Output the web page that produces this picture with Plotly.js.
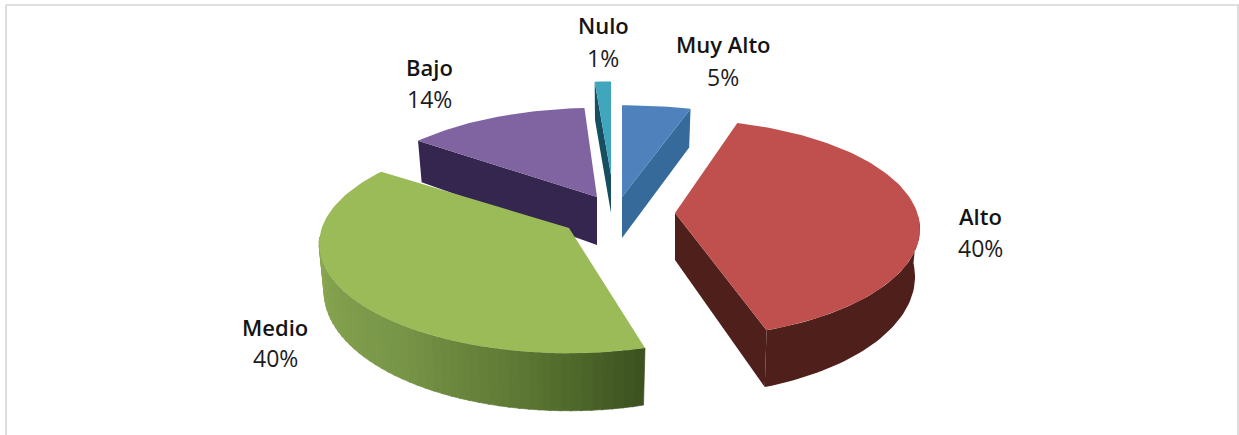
<!DOCTYPE html>
<html>
<head>
<meta charset="utf-8">
<script src="https://cdn.plot.ly/plotly-3.0.1.min.js"></script>
<style>html,body{margin:0;padding:0;background:#fff;overflow:hidden}#chart{width:1239px;height:435px}</style>
</head>
<body>
<div id="chart"></div>
<script>
// ---- data ----
const categories = ["Muy Alto", "Alto", "Medio", "Bajo", "Nulo"];
const percents   = [5, 40, 40, 14, 1];

// ---- styling / layout ----
const topColors  = ["#4f81bd", "#c0504d", "#9bbb59", "#8064a2", "#3fa6bd"];
const sideColors = ["#366a9b", "#4f1f1c", "#5f7a35", "#35264f", "#174f60"];
const apexX = [622, 675, 569, 597, 611];
const apexY = [197, 213, 228, 197, 175];
const apexDepth = [41, 47, 45, 48, 38];
const radiusX = [1.1, 1, 1.02, 1, 1.3];
const radiusY = [0.98, 1, 1, 0.95, 1];
const labelX = [723, 980, 275, 429, 603];
const nameY  = [44, 216, 327, 67, 25];
const pctY   = [77, 248, 358, 99, 58];
const startTrim = [0, 0, 3.5, -2, 0];          // degrees the arc ends are nudged
const endTrim   = [0, 0, -4, 0, 0];
const greenStops = [[165,[60,81,32]],[175,[74,99,40]],[190,[95,122,53]],[215,[120,150,72]],[259,[138,167,80]]];

const R = 240, Ry = 105, P = 0.2, DY = -6, D = 46;
const rad = d => d * Math.PI / 180;

function topPt(i, th) {
  const w = 1 + P * Math.cos(rad(th));
  return [apexX[i] + radiusX[i] * R * Math.sin(rad(th)) / w, apexY[i] + DY - radiusY[i] * Ry * Math.cos(rad(th)) / w];
}
function botPt(i, th) {
  const w = 1 + P * Math.cos(rad(th));
  return [apexX[i] + 0.98 * radiusX[i] * R * Math.sin(rad(th)) / w, apexY[i] + DY - radiusY[i] * Ry * Math.cos(rad(th)) / w + D / w];
}
function poly(points, color, seam) {
  return {
    type: "scatter", mode: "lines", x: points.map(p => p[0]), y: points.map(p => p[1]),
    fill: "toself", fillcolor: color, line: {width: seam ? 0.7 : 0, color: color},
    hoverinfo: "skip", showlegend: false
  };
}
function arcRange(a, b, fn, i) {
  const out = [], n = Math.max(2, Math.ceil(Math.abs(b - a) / 1.5));
  for (let k = 0; k <= n; k++) out.push(fn(i, a + (b - a) * k / n));
  return out;
}
function lerpColor(th) {
  for (let k = 0; k < greenStops.length - 1; k++) {
    const [a, ca] = greenStops[k], [b, cb] = greenStops[k + 1];
    if (th <= b) {
      const t = Math.max(0, (th - a) / (b - a));
      return "rgb(" + ca.map((c, j) => Math.round(c + (cb[j] - c) * t)).join(",") + ")";
    }
  }
  const c = greenStops[greenStops.length - 1][1];
  return "rgb(" + c.join(",") + ")";
}

// slice angle spans from the percentages
const starts = [], ends = [];
let cum = 0;
percents.forEach((v, i) => {
  starts.push(cum * 3.6 + startTrim[i]);
  cum += v;
  ends.push(cum * 3.6 + endTrim[i]);
});

function topFace(i) {
  return poly([[apexX[i], apexY[i]]].concat(arcRange(starts[i], ends[i], topPt, i)).concat([[apexX[i], apexY[i]]]), topColors[i]);
}
function cutFace(i, th) {
  const a = topPt(i, th), b = botPt(i, th);
  return poly([[apexX[i], apexY[i]], a, b, [apexX[i], apexY[i] + apexDepth[i]], [apexX[i], apexY[i]]], sideColors[i]);
}
function arcSide(i, a, b, colorFn) {
  const traces = [];
  if (colorFn) {
    const step = 2;
    for (let th = a; th < b; th += step) {
      const e = Math.min(b, th + step + 0.3);
      traces.push(poly([topPt(i, th), topPt(i, e), botPt(i, e), botPt(i, th), topPt(i, th)], colorFn(th), true));
    }
  } else {
    const t = arcRange(a, b, topPt, i), l = arcRange(a, b, botPt, i).reverse();
    traces.push(poly(t.concat(l, [t[0]]), sideColors[i]));
  }
  return traces;
}

const traces = [];
// back to front: Bajo, Nulo, Muy Alto, Alto, Medio
traces.push(cutFace(3, starts[3]), topFace(3));
traces.push(cutFace(4, starts[4]), topFace(4));
traces.push(cutFace(0, ends[0]), topFace(0));
traces.push(...arcSide(1, 95, ends[1]), cutFace(1, ends[1]), topFace(1));
traces.push(...arcSide(2, starts[2], 262, lerpColor), topFace(2));

const annotations = [];
const nameFont = {family: "'Open Sans', sans-serif", size: 22, color: "#141414", weight: 600};
const pctFont  = {family: "'Open Sans', sans-serif", size: 23, color: "#1c1c1c", weight: 400};
categories.forEach((c, i) => {
  annotations.push({x: labelX[i], y: nameY[i], text: c, showarrow: false, font: nameFont, xanchor: "center", yanchor: "middle"});
  annotations.push({x: labelX[i], y: pctY[i], text: percents[i] + "%", showarrow: false, font: pctFont, xanchor: "center", yanchor: "middle"});
});

const frame = {type: "line", xref: "paper", yref: "paper", line: {color: "#dedede", width: 2}};
const layout = {
  width: 1239, height: 435, margin: {l: 0, r: 0, t: 0, b: 0},
  paper_bgcolor: "#fff", plot_bgcolor: "#fff", showlegend: false,
  xaxis: {range: [0, 1239], visible: false, fixedrange: true},
  yaxis: {range: [435, 0], visible: false, fixedrange: true},
  annotations: annotations,
  shapes: [
    Object.assign({}, frame, {x0: 6/1239, x1: 1, y0: 1 - 5/435, y1: 1 - 5/435}),
    Object.assign({}, frame, {x0: 6/1239, x1: 6/1239, y0: 0, y1: 1 - 5/435}),
    Object.assign({}, frame, {x0: 1238/1239, x1: 1238/1239, y0: 0, y1: 1 - 5/435})
  ]
};
Plotly.newPlot("chart", traces, layout, {staticPlot: true, displayModeBar: false});
</script>
</body>
</html>
